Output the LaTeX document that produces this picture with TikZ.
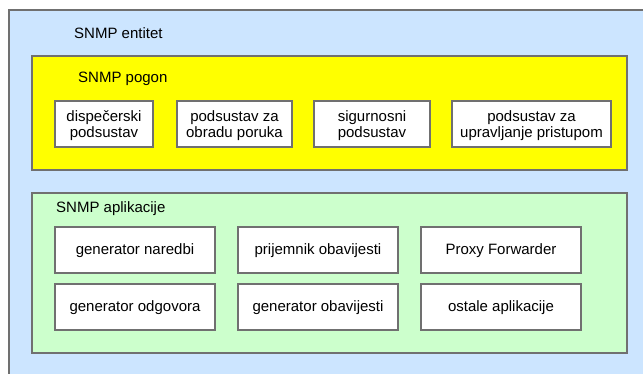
\documentclass[tikz,border=0pt]{standalone}
\usepackage{fontspec}
\setmainfont{Liberation Sans}
\usetikzlibrary{positioning}
\definecolor{snmpblue}{RGB}{204,229,255}
\definecolor{snmpyellow}{RGB}{255,255,0}
\definecolor{snmpgreen}{RGB}{204,255,204}
\definecolor{snmpborder}{RGB}{112,112,112}
\begin{document}
\begin{tikzpicture}[x=1pt, y=-1pt,
    okvir/.style={draw=snmpborder, line width=1.3pt, rectangle, inner sep=0pt},
    modul/.style={okvir, fill=white, line width=1.1pt, minimum height=46pt,
      font=\fontsize{15}{16.5}\selectfont},
    podsustav/.style={modul, align=center, text height=30pt, text depth=2.6pt},
    aplikacija/.style={modul, minimum width=160pt, text height=12pt, text depth=2.6pt},
    natpis/.style={anchor=west, inner sep=0pt, font=\fontsize{15}{16.5}\selectfont}]
    \clip (0,0) rectangle (643,373);
    % outer entity and its two parts
    \node[okvir, fill=snmpblue, minimum width=652pt, minimum height=380pt] (entitet) at (335,200) {};
    \node[okvir, fill=snmpyellow, minimum width=595pt, minimum height=114pt] (pogon) at (329.5,113) {};
    \node[okvir, fill=snmpgreen, minimum width=595pt, minimum height=160pt] (aplikacije) at (329.5,273) {};
    \node[natpis] (entitetnatpis) at (74,33) {SNMP entitet};
    \node[natpis] (pogonnatpis) at (78,79) {SNMP pogon};
    \node[natpis] (aplikacijenatpis) at (56,209) {SNMP aplikacije};
    % subsystems of the engine
    \node[podsustav, minimum width=98pt] (dispecer) at (104,124) {dispečerski\\podsustav};
    \node[podsustav, minimum width=115pt] (obrada) at (234.5,124) {podsustav za\\obradu poruka};
    \node[podsustav, minimum width=116pt] (sigurnost) at (372,124) {sigurnosni\\podsustav};
    \node[podsustav, minimum width=159pt] (pristup) at (531.5,124) {podsustav za\\upravljanje pristupom};
    % applications, 2x3
    \foreach \ime/\x/\y/\tekst in {naredbe/135/250/generator naredbi,
        prijemnik/318/250/prijemnik obavijesti,
        proxy/501/250/Proxy Forwarder,
        odgovori/135/307/generator odgovora,
        obavijesti/318/307/generator obavijesti,
        ostale/501/307/ostale aplikacije} {
      \node[aplikacija] (\ime) at (\x,\y) {\tekst};
    }
\end{tikzpicture}
\end{document}
